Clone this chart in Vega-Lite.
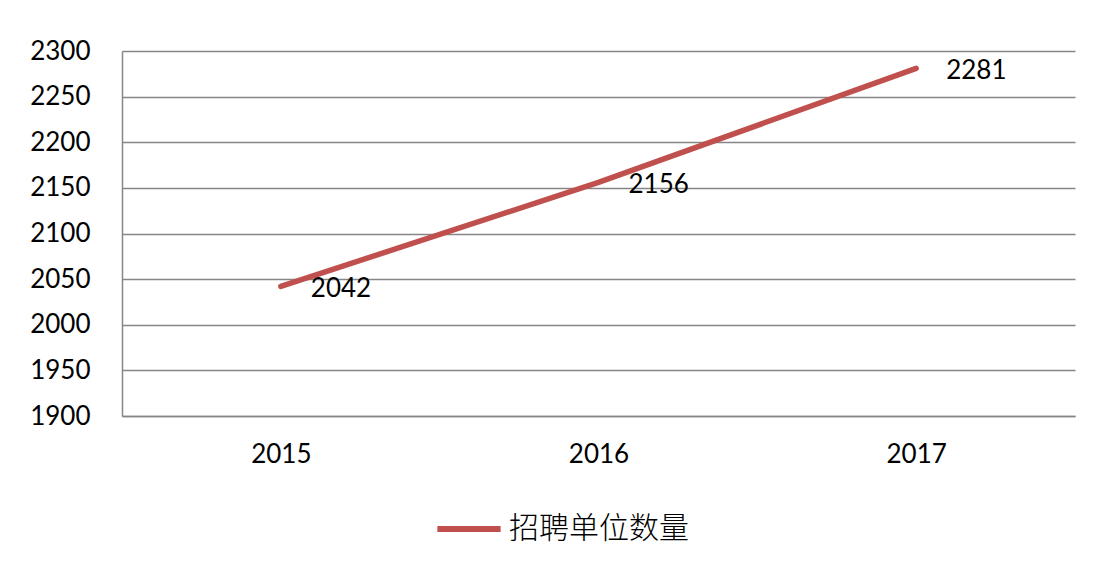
{
  "$schema": "https://vega.github.io/schema/vega-lite/v6.json",
  "autosize": "none",
  "width": 953,
  "height": 365,
  "padding": {"left": 122, "top": 51, "right": 27, "bottom": 158},
  "background": "white",
  "data": {"values": [
    {"year": "2015", "value": 2042, "series": "招聘单位数量"},
    {"year": "2016", "value": 2156, "series": "招聘单位数量"},
    {"year": "2017", "value": 2281, "series": "招聘单位数量"}
  ]},
  "encoding": {
    "x": {"field": "year", "type": "ordinal", "scale": {"type": "point", "padding": 0.5},
      "axis": {"title": null, "labelAngle": 0, "ticks": false, "grid": false, "domainColor": "#868686", "domainWidth": 1.5,
        "labelFont": "Lato", "labelFontSize": 26, "labelColor": "#000000", "labelPadding": 25}},
    "y": {"field": "value", "type": "quantitative", "scale": {"domain": [1900, 2300], "nice": false, "zero": false},
      "axis": {"title": null, "values": [1900, 1950, 2000, 2050, 2100, 2150, 2200, 2250, 2300], "format": "d", "ticks": false,
        "grid": true, "gridColor": "#868686", "gridWidth": 1.5, "domainColor": "#868686", "domainWidth": 1.5,
        "labelFont": "Lato", "labelFontSize": 26, "labelColor": "#000000", "labelPadding": 32}}
  },
  "layer": [
    {"mark": {"type": "line", "strokeWidth": 5.5, "strokeCap": "round"},
     "encoding": {"color": {"field": "series", "type": "nominal", "scale": {"range": ["#C0504D"]},
       "legend": {"title": null, "orient": "none", "legendX": 312, "legendY": 443, "symbolType": "stroke", "symbolSize": 4000,
         "symbolStrokeWidth": 6, "labelFont": "Noto Sans CJK SC", "labelFontSize": 30, "labelFontWeight": 300, "labelColor": "#000000", "labelOffset": 5, "labelLimit": 400}}}},
    {"mark": {"type": "text", "align": "left", "baseline": "middle", "dx": 30, "dy": 3, "font": "Lato", "fontSize": 26, "color": "#000000"},
     "encoding": {"text": {"field": "value", "type": "quantitative"}}}
  ],
  "config": {"view": {"stroke": null}}
}
